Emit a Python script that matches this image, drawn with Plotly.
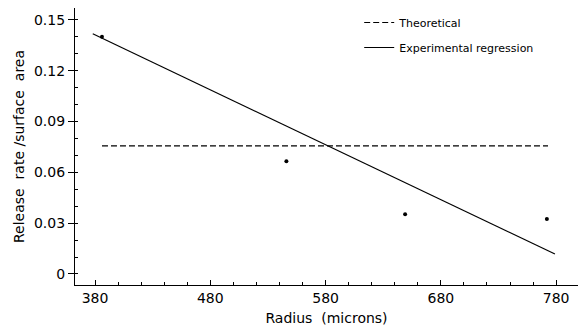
import plotly.graph_objects as go

# data
radius_pts = [386, 546, 649, 772]
rate_pts = [0.140, 0.0665, 0.0353, 0.0324]
theo_x = [386, 773]
theo_y = [0.0756, 0.0756]
reg_x = [378, 779]
reg_y = [0.1418, 0.0118]
x_ticks = [380, 480, 580, 680, 780]
y_ticks = [0, 0.03, 0.06, 0.09, 0.12, 0.15]
y_labels = ["0", "0.03", "0.06", "0.09", "0.12", "0.15"]

FONT = "DejaVu Sans"

fig = go.Figure()
fig.add_trace(go.Scatter(x=theo_x, y=theo_y, mode="lines", name="Theoretical",
                         legendgroup="a",
                         line=dict(color="black", width=1.1, dash="6px,3px")))
fig.add_trace(go.Scatter(x=reg_x, y=reg_y, mode="lines", name="Experimental regression",
                         legendgroup="b",
                         line=dict(color="black", width=1.2)))
fig.add_trace(go.Scatter(x=radius_pts, y=rate_pts, mode="markers", showlegend=False,
                         marker=dict(color="black", size=4)))

fig.update_layout(
    width=578, height=330,
    margin=dict(l=75, r=0, t=8, b=45),
    paper_bgcolor="white", plot_bgcolor="white",
    font=dict(family=FONT, color="black", size=13),
    legend=dict(x=0.565, y=1.0, xanchor="left", yanchor="top",
                font=dict(size=11, family=FONT), bgcolor="rgba(0,0,0,0)",
                tracegroupgap=6, itemwidth=30),
    xaxis=dict(range=[362.6, 799], tickvals=x_ticks, showgrid=False, zeroline=False,
               showline=True, linecolor="black", linewidth=1.2,
               ticks="inside", ticklen=5, tickcolor="black",
               minor=dict(dtick=20, ticks="inside", ticklen=3, tickcolor="black"),
               title=dict(text="Radius  (microns)", standoff=8, font=dict(size=14)),
               tickfont=dict(size=14)),
    yaxis=dict(range=[-0.0065, 0.157], tickvals=y_ticks, ticktext=y_labels,
               showgrid=False, zeroline=False,
               showline=True, linecolor="black", linewidth=1.2,
               ticks="outside", ticklen=6, tickcolor="black",
               minor=dict(dtick=0.01, ticks="inside", ticklen=3, tickcolor="black"),
               title=dict(text="Release  rate /surface  area", standoff=6, font=dict(size=14)),
               tickfont=dict(size=14)),
)

fig.write_html("out.html")
